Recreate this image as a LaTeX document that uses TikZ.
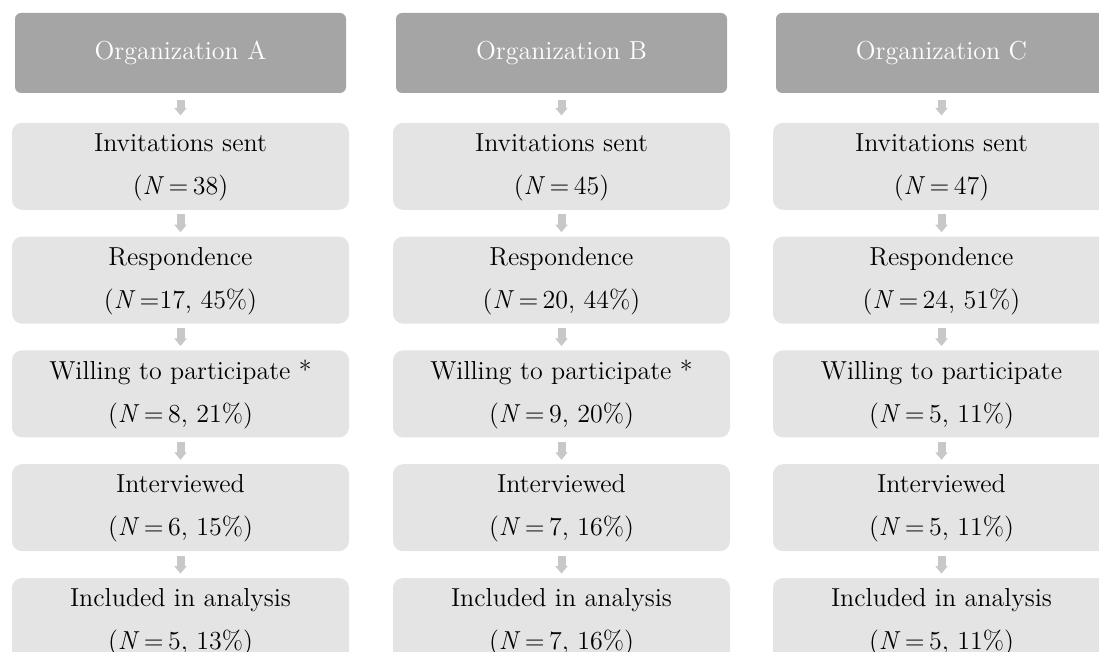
\documentclass[tikz,border=0pt]{standalone}
\usepackage{tikz}
\usetikzlibrary{arrows.meta,positioning}

\definecolor{headgray}{HTML}{A5A5A5}
\definecolor{boxgray}{HTML}{E4E4E4}
\definecolor{arrowgray}{HTML}{C8C8C8}

\tikzset{
    orghead/.style={fill=headgray, rounded corners=3pt, inner sep=0pt,
        minimum width=165.5pt, minimum height=40pt,
        text=white, font=\fontsize{13}{14}\selectfont},
    stagebox/.style={fill=boxgray, rounded corners=5pt, inner sep=0pt,
        minimum width=168.5pt, minimum height=43.5pt, align=center,
        font=\fontsize{13}{21.5}\selectfont},
    flowarrow/.style={arrowgray, line width=4pt,
        -{Triangle[width=6pt,length=3.75pt]},
        shorten <=#1, shorten >=#1},
    flowarrow/.default=2pt
}

\begin{document}
\begin{tikzpicture}[x=0.5pt,y=-0.5pt]
    \useasboundingbox (0,0) rectangle (1099,652);
    \clip (0,0) rectangle (1099,652);

    % one column per organization
    \foreach \c/\cx/\inv/\resp/\will/\wmark/\intv/\incl in {
        A/180.5/{\,=\,38}/{\,=17, 45\%}/{\,=\,8, 21\%}/{ *}/{\,=\,6, 15\%}/{\,=\,5, 13\%},
        B/561.5/{\,=\,45}/{\,=\,20, 44\%}/{\,=\,9, 20\%}/{ *}/{\,=\,7, 16\%}/{\,=\,7, 16\%},
        C/941.5/{\,=\,47}/{\,=\,24, 51\%}/{\,=\,5, 11\%}/{}/{\,=\,5, 11\%}/{\,=\,5, 11\%}} {
        \node[orghead] (h\c) at (\cx,53) {Organization \c};
        \node[stagebox, below=14.5pt of h\c] (inv\c)
            {\rule{0pt}{10pt}Invitations sent\\(\textit{N}\inv)};
        \node[stagebox, below=13pt of inv\c] (resp\c)
            {\rule{0pt}{10pt}Respondence\\(\textit{N}\resp)};
        \node[stagebox, below=13pt of resp\c] (will\c)
            {\rule{0pt}{10pt}Willing to participate\wmark\\(\textit{N}\will)};
        \node[stagebox, below=13pt of will\c] (intv\c)
            {\rule{0pt}{10pt}Interviewed\\(\textit{N}\intv)};
        \node[stagebox, below=13pt of intv\c] (incl\c)
            {\rule{0pt}{10pt}Included in analysis\\(\textit{N}\incl)};

        % arrows down the column
        \draw[flowarrow=3.5pt] (h\c) -- (inv\c);
        \draw[flowarrow] (inv\c) -- (resp\c);
        \draw[flowarrow] (resp\c) -- (will\c);
        \draw[flowarrow] (will\c) -- (intv\c);
        \draw[flowarrow] (intv\c) -- (incl\c);
    }
\end{tikzpicture}
\end{document}
